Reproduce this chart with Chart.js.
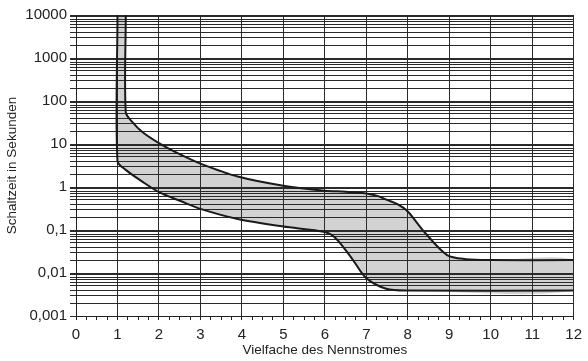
<!DOCTYPE html>
<html>
<head>
<meta charset="utf-8">
<script src="https://cdn.jsdelivr.net/npm/chart.js@4.4.1/dist/chart.umd.min.js"></script>
<style>
  html, body { margin: 0; padding: 0; background: #fff; }
  #wrap { width: 588px; height: 361px; position: relative; }
</style>
</head>
<body>
<div id="wrap"><canvas id="tripChart"></canvas></div>
<script>
// Upper limit of the tripping band (multiple of rated current -> seconds)
const upperX = [1.2, 1.2, 1.35, 1.6, 2, 2.5, 3, 3.9, 5, 6, 6.5, 7, 7.25, 7.5, 7.75, 8, 8.4, 8.95, 9.4, 10, 12];
const upperY = [10000, 55, 33, 19, 10.5, 5.8, 3.5, 1.75, 1.07, 0.82, 0.78, 0.71, 0.63, 0.5, 0.4, 0.27, 0.09, 0.026, 0.021, 0.02, 0.02];

// Lower limit of the tripping band
const lowerX = [1, 1, 1.2, 1.6, 2, 2.55, 3, 3.9, 5, 6, 6.28, 6.68, 7, 7.48, 8, 12];
const lowerY = [10000, 4.0, 2.5, 1.33, 0.76, 0.46, 0.31, 0.18, 0.12, 0.09, 0.062, 0.02, 0.0076, 0.0043, 0.0039, 0.0039];

// Axis ticks
const yDecades = [0.001, 0.01, 0.1, 1, 10, 100, 1000];
const yMultipliers = [1, 2, 3, 4, 5, 6, 7, 8, 9];
const yTickLabels = ['0,001', '0,01', '0,1', '1', '10', '100', '1000', '10000'];
const xTickLabels = ['0', '1', '2', '3', '4', '5', '6', '7', '8', '9', '10', '11', '12'];

const gridColor = '#2a2a2a';

function toPoints(xs, ys) {
    return xs.map((x, i) => ({x: x, y: ys[i]}));
}

// closed outline of the band: along the upper curve, back along the lower one
const bandPoints = toPoints(upperX, upperY).concat(toPoints(lowerX, lowerY).reverse());

const yGridValues = [];
yDecades.forEach(d => {
    yMultipliers.forEach(m => {
        yGridValues.push(Math.round(d * m * 1e6) / 1e6);
    });
});
yGridValues.push(10000);

function isDecade(v) {
    const e = Math.log10(v);
    return Math.abs(e - Math.round(e)) < 1e-6;
}

Chart.defaults.font.family = '"Liberation Sans", Arial, Helvetica, sans-serif';
Chart.defaults.color = '#222';

new Chart(document.getElementById('tripChart'), {
    type: 'line',
    data: {
        datasets: [{
            label: 'band',
            data: bandPoints,
            fill: 'shape',
            backgroundColor: '#d2d2d2',
            borderWidth: 0,
            pointRadius: 0,
            tension: 0.3
        }, {
            label: 'upper',
            data: toPoints(upperX, upperY),
            fill: false,
            borderColor: '#1a1a1a',
            borderWidth: 2,
            pointRadius: 0,
            tension: 0.3
        }, {
            label: 'lower',
            data: toPoints(lowerX, lowerY),
            fill: false,
            borderColor: '#1a1a1a',
            borderWidth: 2,
            pointRadius: 0,
            tension: 0.3
        }]
    },
    options: {
        responsive: true,
        maintainAspectRatio: false,
        animation: false,
        layout: {
            padding: {top: 15, right: 9, bottom: 0, left: 0}
        },
        plugins: {
            legend: {display: false},
            tooltip: {enabled: false},
            filler: {drawTime: 'beforeDraw'}
        },
        scales: {
            x: {
                type: 'linear',
                min: 0,
                max: 12,
                afterFit: function(scale) {
                    scale.height = 45;
                },
                ticks: {
                    stepSize: 0.25,
                    autoSkip: false,
                    maxRotation: 0,
                    padding: 6,
                    font: {size: 15},
                    callback: function(value) {
                        if (Math.abs(value - Math.round(value)) > 1e-6) return '';
                        return xTickLabels[Math.round(value)];
                    }
                },
                grid: {
                    lineWidth: 1,
                    tickLength: 4,
                    tickColor: '#222',
                    color: function(ctx) {
                        const v = ctx.tick ? ctx.tick.value : 0;
                        return Math.abs(v - Math.round(v)) > 1e-6 ? 'rgba(0,0,0,0)' : gridColor;
                    }
                },
                border: {color: '#222', width: 1},
                title: {
                    display: true,
                    text: 'Vielfache des Nennstromes',
                    font: {size: 13.5},
                    padding: {top: 0, bottom: 3}
                }
            },
            y: {
                type: 'logarithmic',
                min: 0.001,
                max: 10000,
                afterFit: function(scale) {
                    scale.width = 76;
                },
                afterBuildTicks: function(scale) {
                    scale.ticks = yGridValues.map(v => ({value: v}));
                },
                ticks: {
                    autoSkip: false,
                    padding: 3,
                    font: {size: 15},
                    callback: function(value) {
                        if (!isDecade(value)) return '';
                        return yTickLabels[Math.round(Math.log10(value)) + 3];
                    }
                },
                grid: {
                    lineWidth: 1,
                    tickLength: 6,
                    color: gridColor
                },
                border: {color: '#222', width: 1},
                title: {
                    display: true,
                    text: 'Schaltzeit in Sekunden',
                    font: {size: 13.5},
                    padding: {top: 4, bottom: 0}
                }
            }
        }
    }
});
</script>
</body>
</html>
